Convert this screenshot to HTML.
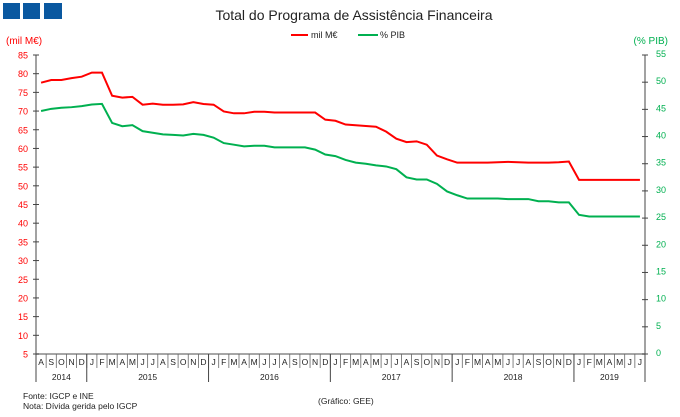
<!DOCTYPE html>
<html><head><meta charset="utf-8"><style>
body{margin:0;background:#fff;}
svg{display:block;font-family:"Liberation Sans",sans-serif;}
</style></head><body>
<svg id="c" width="680" height="417" viewBox="0 0 680 417">
<rect x="3" y="3" width="17" height="16" fill="#0a58a0"/>
<rect x="23" y="3" width="17" height="16" fill="#0a58a0"/>
<rect x="44" y="3" width="18" height="16" fill="#0a58a0"/>
<text x="354" y="20" font-size="14" text-anchor="middle" fill="#222">Total do Programa de Assistência Financeira</text>
<g>
<line x1="291" y1="35" x2="308" y2="35" stroke="#f00" stroke-width="2"/>
<text x="311" y="38" font-size="9" fill="#222">mil M€</text>
<line x1="358" y1="35" x2="378" y2="35" stroke="#00b050" stroke-width="2"/>
<text x="380" y="38" font-size="9" fill="#222">% PIB</text>
</g>
<text x="6" y="44" font-size="10" fill="#f00">(mil M€)</text>
<text x="668" y="44" font-size="10" fill="#00b050" text-anchor="end">(% PIB)</text>
<g id="axes"></g>
<g id="series"></g>
<text x="23" y="399" font-size="8.5" fill="#222">Fonte: IGCP e INE</text>
<text x="23" y="409" font-size="8.5" fill="#222">Nota: Dívida gerida pelo IGCP</text>
<text x="318" y="404" font-size="8.5" fill="#222">(Gráfico: GEE)</text>
</svg>
<script>
const monthLabels=["A","S","O","N","D","J","F","M","A","M","J","J","A","S","O","N","D","J","F","M","A","M","J","J","A","S","O","N","D","J","F","M","A","M","J","J","A","S","O","N","D","J","F","M","A","M","J","J","A","S","O","N","D","J","F","M","A","M","J","J"];
const years=["2014","2015","2016","2017","2018","2019"];
const yearMonths=[5,12,12,12,12,7];
const leftTicks=[5,10,15,20,25,30,35,40,45,50,55,60,65,70,75,80,85];
const rightTicks=[0,5,10,15,20,25,30,35,40,45,50,55];
const milM=[77.6,78.3,78.3,78.8,79.2,80.3,80.3,74.1,73.6,73.8,71.7,72.0,71.7,71.7,71.8,72.4,71.9,71.7,69.9,69.4,69.4,69.8,69.8,69.6,69.6,69.6,69.6,69.6,67.7,67.4,66.4,66.2,66.0,65.8,64.5,62.6,61.7,61.9,61.0,58.1,57.1,56.2,56.2,56.2,56.2,56.3,56.4,56.3,56.2,56.2,56.2,56.3,56.5,51.6,51.6,51.6,51.6,51.6,51.6,51.6];
const pib=[44.7,45.1,45.3,45.4,45.6,45.9,46.0,42.5,41.9,42.1,41.0,40.7,40.4,40.3,40.2,40.5,40.3,39.8,38.8,38.5,38.2,38.3,38.3,38.0,38.0,38.0,38.0,37.6,36.7,36.4,35.7,35.2,35.0,34.7,34.5,34.0,32.5,32.1,32.1,31.3,29.9,29.2,28.6,28.6,28.6,28.6,28.5,28.5,28.5,28.1,28.1,27.9,27.9,25.6,25.3,25.3,25.3,25.3,25.3,25.3];

const NS="http://www.w3.org/2000/svg";
const X0=36,X1=645,Y0=354,Y1=55;
const mw=(X1-X0)/monthLabels.length;
const xs=i=>X0+mw*(i+0.5);
const yl=v=>Y0-(v-5)/(85-5)*(Y0-Y1);
const yr=v=>Y0-v/55*(Y0-Y1);
function mk(tag,attrs,parent){const e=document.createElementNS(NS,tag);for(const k in attrs)e.setAttribute(k,attrs[k]);parent.appendChild(e);return e;}
const ax=document.getElementById('axes');
let e;
e=mk('line',{x1:X0,y1:Y1,x2:X0,y2:Y0,stroke:'#444','stroke-width':1},ax);


e=mk('line',{x1:X1,y1:Y1,x2:X1,y2:Y0,stroke:'#444','stroke-width':1},ax);


e=mk('line',{x1:X0,y1:Y0,x2:X1,y2:Y0,stroke:'#888','stroke-width':1.5},ax);


leftTicks.forEach(v=>{
 mk('line',{x1:X0-3,y1:yl(v),x2:X0+3,y2:yl(v),stroke:'#444'},ax);
 e=mk('text',{x:X0-8,y:yl(v)+3.5,'font-size':9,fill:'#f00','text-anchor':'end'},ax);
 e.textContent=v;
 
 
});
rightTicks.forEach(v=>{
 mk('line',{x1:X1-3,y1:yr(v),x2:X1+3,y2:yr(v),stroke:'#444'},ax);
 e=mk('text',{x:X1+11,y:yr(v)+2,'font-size':9,fill:'#00b050'},ax);
 e.textContent=v;
 
 
});
monthLabels.forEach((m,i)=>{
 mk('line',{x1:X0+mw*i,y1:Y0,x2:X0+mw*i,y2:368,stroke:'#666','stroke-width':0.8},ax);
 e=mk('text',{x:xs(i),y:365,'font-size':8.5,fill:'#222','text-anchor':'middle'},ax);
 e.textContent=m;
 
 
});
let acc=0;
years.forEach((y,j)=>{
 mk('line',{x1:X0+mw*acc,y1:Y0,x2:X0+mw*acc,y2:382,stroke:'#444','stroke-width':1},ax);
 e=mk('text',{x:X0+mw*(acc+yearMonths[j]/2),y:380,'font-size':8.5,fill:'#222','text-anchor':'middle'},ax);
 e.textContent=y;
 
 
 acc+=yearMonths[j];
});
mk('line',{x1:X1,y1:Y0,x2:X1,y2:382,stroke:'#444','stroke-width':1},ax);
const sg=document.getElementById('series');
e=mk('polyline',{points:milM.map((v,i)=>xs(i)+','+yl(v)).join(' '),fill:'none',stroke:'#f00','stroke-width':2},sg);


e=mk('polyline',{points:pib.map((v,i)=>xs(i)+','+yr(v)).join(' '),fill:'none',stroke:'#00b050','stroke-width':2},sg);


</script>
</body></html>
